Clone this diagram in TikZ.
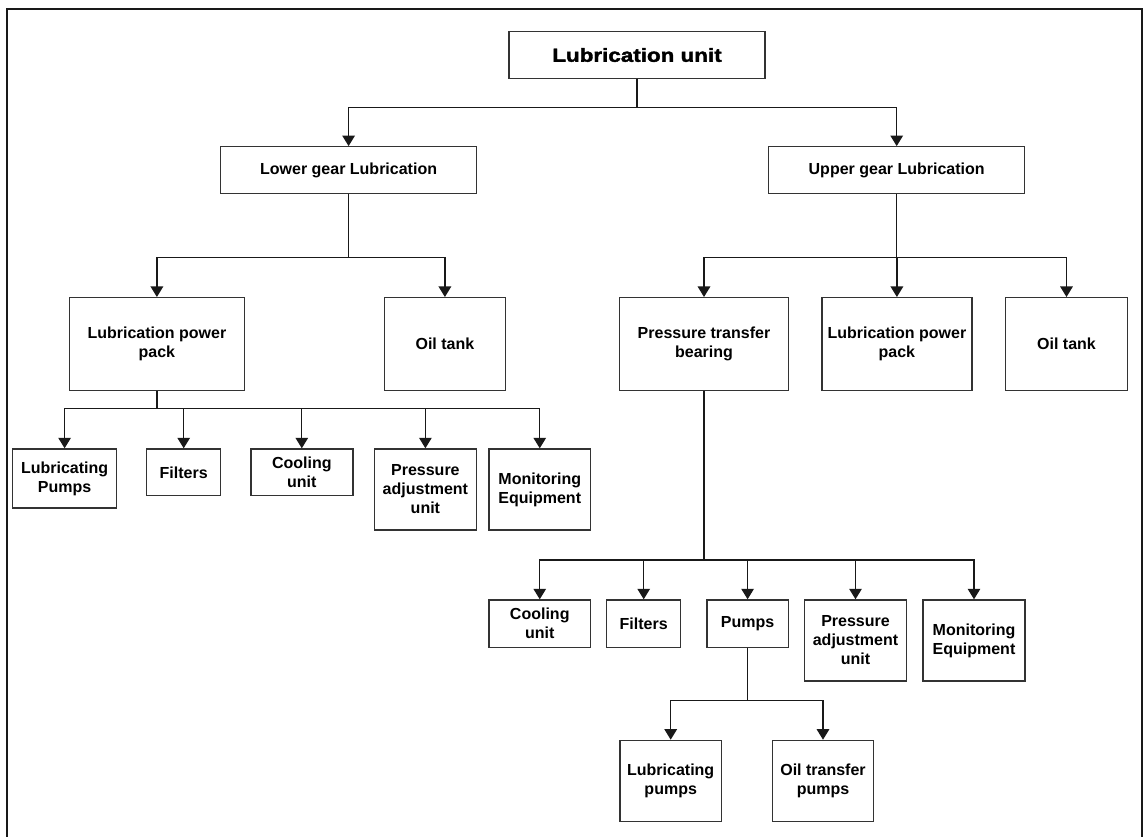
\documentclass[tikz,border=0pt]{standalone}
\usepackage{fontspec}
\setmainfont{Liberation Sans}
\newfontfamily\titlefont{Liberation Sans Bold}[FakeBold=2,FakeStretch=1.18]
\usetikzlibrary{arrows.meta}

\tikzset{
  box/.style={draw=black!80, line width=1.4pt, fill=white, inner sep=0pt,
    align=center, font=\bfseries\fontsize{16}{19}\selectfont},
  conn/.style={draw=black!90, line width=1.3pt},
  arr/.style={conn, -{Triangle[length=10.5pt,width=12.5pt]}},
}

\begin{document}
\begin{tikzpicture}[x=1pt,y=-1pt]
  \useasboundingbox (0,0) rectangle (1144,837);
  \clip (0,0) rectangle (1144,837);
  \fill[white] (0,0) rectangle (1144,837);
  % outer frame, open at the foot of the page
  \draw[line width=2pt, black!90] (6.5,850) -- (6.5,9) -- (1142,9) -- (1142,850);

  % bus levels of the elbow connectors
  \coordinate (b1) at (0,107.7);
  \coordinate (b2) at (0,257.7);
  \coordinate (b3) at (0,408.3);
  \coordinate (b4) at (0,560);
  \coordinate (b5) at (0,700.3);

  % root
  \node[box, minimum width=256pt, minimum height=46.5pt,
        font=\titlefont\fontsize{19}{22}\selectfont] (root) at (637,55) {Lubrication unit};

  % second level
  \node[box, minimum width=256pt, minimum height=47pt] (lg) at (348.6,170.3) {Lower gear Lubrication};
  \node[box, minimum width=256pt, minimum height=47pt] (ug) at (896.7,170.3) {Upper gear Lubrication};

  % third level
  \node[box, minimum width=175pt, minimum height=92.6pt] (lpp) at (156.9,344) {Lubrication power\\pack};
  \node[box, minimum width=121.4pt, minimum height=92.6pt] (lot) at (444.9,344) {Oil tank};
  \node[box, minimum width=168.5pt, minimum height=92.6pt] (ptb) at (704,344) {Pressure transfer\\bearing};
  \node[box, minimum width=150pt, minimum height=92.6pt] (rpp) at (896.9,344) {Lubrication power\\pack};
  \node[box, minimum width=122pt, minimum height=92.6pt] (rot) at (1066.5,344) {Oil tank};

  % parts of the lower gear power pack
  \node[box, minimum width=104pt, minimum height=59pt, anchor=north] (llp) at (64.6,448.3) {Lubricating\\Pumps};
  \node[box, minimum width=74pt, minimum height=46.7pt, anchor=north] (lfi) at (183.7,448.3) {Filters};
  \node[box, minimum width=102pt, minimum height=46.7pt, anchor=north] (lcu) at (301.8,448.3) {Cooling\\unit};
  \node[box, minimum width=102pt, minimum height=81pt, anchor=north] (lpa) at (425.4,448.3) {Pressure\\adjustment\\unit};
  \node[box, minimum width=101.5pt, minimum height=81pt, anchor=north] (lme) at (539.75,448.3) {Monitoring\\Equipment};

  % parts of the pressure transfer bearing
  \node[box, minimum width=101.5pt, minimum height=47.4pt, anchor=north] (rcu) at (539.75,599.3) {Cooling\\unit};
  \node[box, minimum width=74pt, minimum height=47.4pt, anchor=north] (rfi) at (643.7,599.3) {Filters};
  \node[box, minimum width=81.6pt, minimum height=47.4pt, anchor=north] (rpu) at (747.6,599.3) {Pumps};
  \node[box, minimum width=102pt, minimum height=81pt, anchor=north] (rpa) at (855.5,599.3) {Pressure\\adjustment\\unit};
  \node[box, minimum width=102pt, minimum height=81pt, anchor=north] (rme) at (974,599.3) {Monitoring\\Equipment};

  % kinds of pumps
  \node[box, minimum width=101.4pt, minimum height=81pt, anchor=north] (lp2) at (670.7,739.7) {Lubricating\\pumps};
  \node[box, minimum width=101.4pt, minimum height=81pt, anchor=north] (otp) at (823,739.7) {Oil transfer\\pumps};

  % connectors
  \foreach \c in {lg,ug}
    \draw[arr] (root.south) -- (root.south |- b1) -| (\c.north);
  \foreach \c in {lpp,lot}
    \draw[arr] (lg.south) -- (lg.south |- b2) -| (\c.north);
  \foreach \c in {ptb,rpp,rot}
    \draw[arr] (ug.south) -- (ug.south |- b2) -| (\c.north);
  \foreach \c in {llp,lfi,lcu,lpa,lme}
    \draw[arr] (lpp.south) -- (lpp.south |- b3) -| (\c.north);
  \foreach \c in {rcu,rfi,rpu,rpa,rme}
    \draw[arr] (ptb.south) -- (ptb.south |- b4) -| (\c.north);
  \foreach \c in {lp2,otp}
    \draw[arr] (rpu.south) -- (rpu.south |- b5) -| (\c.north);
\end{tikzpicture}
\end{document}
